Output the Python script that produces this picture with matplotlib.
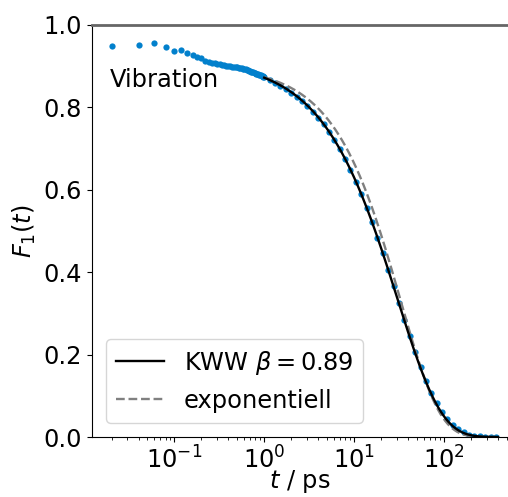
import numpy as np
from matplotlib import pyplot as plt

# ----- data -----
t_data = [0.02, 0.04, 0.06, 0.08, 0.10, 0.12, 0.14, 0.16, 0.18, 0.20,
          0.22, 0.24, 0.26, 0.28, 0.30, 0.32, 0.34, 0.36, 0.38, 0.40,
          0.42, 0.44, 0.46, 0.48, 0.50, 0.52, 0.54, 0.56, 0.58, 0.60,
          0.62, 0.64, 0.66, 0.68, 0.70, 0.72, 0.74, 0.76, 0.78, 0.80,
          0.82, 0.84, 0.86, 0.88, 0.90, 0.92, 0.94, 0.96, 0.98, 1.00,
          1.148, 1.318, 1.514, 1.738, 1.995, 2.291, 2.630, 3.020, 3.467, 3.981,
          4.571, 5.248, 6.026, 6.918, 7.943, 9.120, 10.47, 12.02, 13.80, 15.85,
          18.20, 20.89, 23.99, 27.54, 31.62, 36.31, 41.69, 47.86, 54.95, 63.10,
          72.44, 83.18, 95.50, 109.6, 125.9, 144.5, 166.0, 190.5, 218.8, 251.2,
          288.4, 331.1, 380.2]
F_data = [0.949, 0.951, 0.956, 0.947, 0.938, 0.939, 0.933, 0.927, 0.923, 0.919,
          0.913, 0.910, 0.908, 0.907, 0.906, 0.905, 0.904, 0.902, 0.901, 0.900,
          0.900, 0.899, 0.899, 0.898, 0.897, 0.896, 0.896, 0.895, 0.894, 0.893,
          0.892, 0.891, 0.890, 0.889, 0.888, 0.887, 0.886, 0.885, 0.884, 0.883,
          0.882, 0.881, 0.880, 0.879, 0.879, 0.878, 0.877, 0.876, 0.875, 0.874,
          0.867, 0.860, 0.853, 0.845, 0.836, 0.826, 0.815, 0.803, 0.790, 0.775,
          0.759, 0.741, 0.721, 0.699, 0.675, 0.649, 0.620, 0.589, 0.556, 0.521,
          0.484, 0.446, 0.406, 0.366, 0.325, 0.284, 0.244, 0.206, 0.170, 0.137,
          0.108, 0.082, 0.060, 0.043, 0.029, 0.019, 0.011, 0.006, 0.003, 0.0015,
          0.0007, 0.0003, 0.0001]

# fit parameters
kww_A, kww_tau, kww_beta = 0.915, 30.3, 0.89
exp_A, exp_tau = 0.90, 33.0
t_fit_min, t_fit_max = 1.0, 400.0

t_fit = np.logspace(np.log10(t_fit_min), np.log10(t_fit_max), 400)
kww = kww_A * np.exp(-(t_fit / kww_tau) ** kww_beta)
expo = exp_A * np.exp(-t_fit / exp_tau)

plt.rcParams['font.size'] = 17.4

fig = plt.figure(figsize=(5.08, 4.97), dpi=100)
ax = fig.add_axes([0.181, 0.1207, 0.819, 0.829])

ax.plot(t_data, F_data, 'o', color='#0280cc', ms=4.5, mew=0, zorder=1)
ax.plot(t_fit, kww, '-', color='black', lw=1.7, label=r'KWW $\beta = 0.89$', zorder=3)
ax.plot(t_fit, expo, '--', color='gray', lw=1.7, label='exponentiell', zorder=2)

ax.set_xscale('log')
ax.set_xlim(0.0121, 517)
ax.set_ylim(0, 1)
ax.set_yticks([0, 0.2, 0.4, 0.6, 0.8, 1.0])
ax.set_xlabel(r'$t$ / ps', labelpad=-4)
ax.set_ylabel(r'$F_1(t)$')

ax.spines['right'].set_visible(False)
ax.spines['top'].set_color('#666666')
ax.spines['top'].set_linewidth(2)

ax.text(0.043, 0.85, 'Vibration', transform=ax.transAxes, va='baseline', ha='left')
ax.legend(loc='lower left', borderaxespad=0.6)

fig.savefig('out.png', dpi=100)
